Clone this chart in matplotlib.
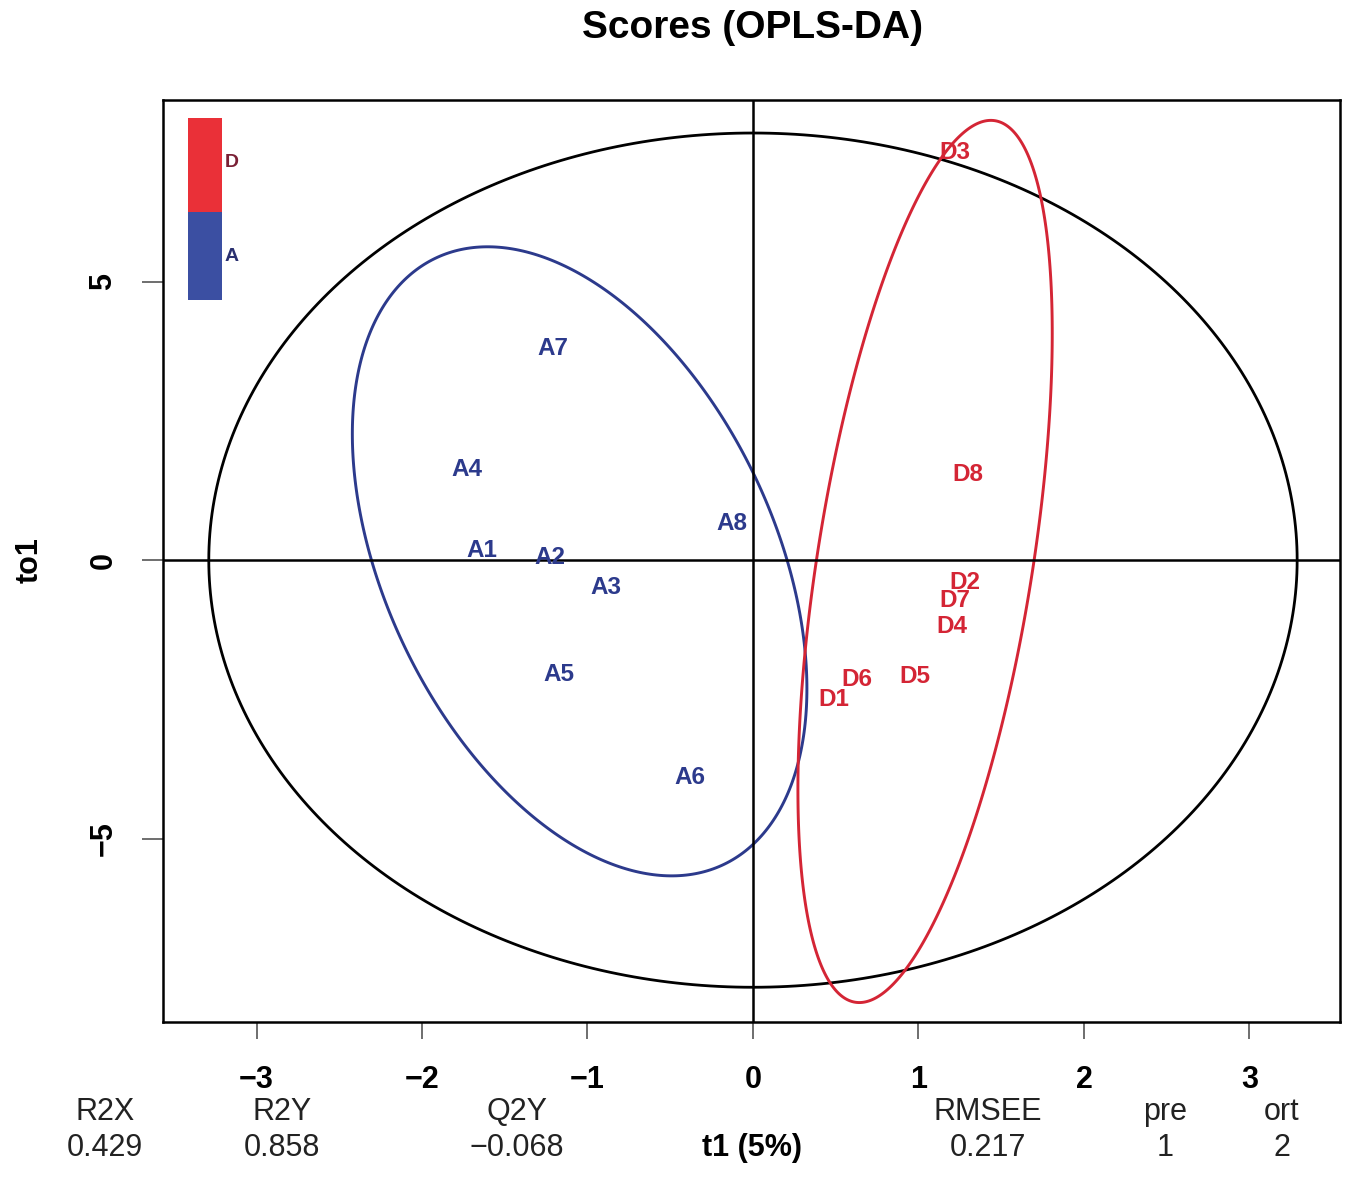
import numpy as np
import matplotlib
matplotlib.use('Agg')
import matplotlib.pyplot as plt
from matplotlib.patches import Rectangle, Polygon

plt.rcParams['font.family'] = ['Liberation Sans', 'DejaVu Sans']

# ---- data ----
labels_A = ['A1', 'A2', 'A3', 'A4', 'A5', 'A6', 'A7', 'A8']
t1_A = [-1.64, -1.23, -0.89, -1.73, -1.17, -0.38, -1.21, -0.13]
to1_A = [0.18, 0.05, -0.50, 1.62, -2.06, -3.91, 3.79, 0.66]

labels_D = ['D1', 'D2', 'D3', 'D4', 'D5', 'D6', 'D7', 'D8']
t1_D = [0.49, 1.28, 1.22, 1.20, 0.98, 0.63, 1.22, 1.30]
to1_D = [-2.50, -0.41, 7.32, -1.20, -2.08, -2.14, -0.72, 1.54]

legend_groups = ['D', 'A']
metric_names = ['R2X', 'R2Y', 'Q2Y', 'RMSEE', 'pre', 'ort']
metric_values = ['0.429', '0.858', '\u22120.068', '0.217', '1', '2']
xticks = [-3, -2, -1, 0, 1, 2, 3]
yticks = [-5, 0, 5]

col_A = '#2c3a8c'
col_D = '#d42535'
col_A_leg = '#3b4fa2'
col_D_leg = '#ea3038'

fig = plt.figure(figsize=(13.55, 11.87), dpi=100)
ax = fig.add_axes([0.1203, 0.139, 0.8686, 0.7768])

# Hotelling ellipse over all scores
t1_all = np.array(t1_A + t1_D)
to1_all = np.array(to1_A + to1_D)
n = len(t1_all)
qf = (n - 2) / 2.0 * (0.05 ** (-2.0 / (n - 2)) - 1)
hot = (n - 1) * 2 * (n ** 2 - 1) / (n ** 2 * (n - 2)) * qf
rx = np.sqrt(hot * np.var(t1_all, ddof=1))
ry = np.sqrt(hot * np.var(to1_all, ddof=1))
th = np.linspace(0, 2 * np.pi, 400, endpoint=False)
ax.add_patch(Polygon(np.column_stack([rx * np.cos(th), ry * np.sin(th)]),
                     closed=True, fill=False, edgecolor='black', lw=2.0))

ax.axhline(0, color='black', lw=1.8)
ax.axvline(0, color='black', lw=1.8)


def group_ellipse(x, y):
    x = np.asarray(x); y = np.asarray(y)
    cov = np.cov(np.vstack([x, y]))
    L = np.linalg.cholesky(cov)
    k = np.sqrt(-2 * np.log(0.05))
    circ = np.vstack([np.cos(th), np.sin(th)])
    pts = L @ circ * k
    return np.column_stack([x.mean() + pts[0], y.mean() + pts[1]])


ax.add_patch(Polygon(group_ellipse(t1_A, to1_A), closed=True, fill=False,
                     edgecolor=col_A, lw=2.1))
ax.add_patch(Polygon(group_ellipse(t1_D, to1_D), closed=True, fill=False,
                     edgecolor=col_D, lw=2.1))

for lab, x, y in zip(labels_A, t1_A, to1_A):
    ax.text(x, y, lab, color=col_A, fontsize=17.5, fontweight='bold',
            ha='center', va='center')
for lab, x, y in zip(labels_D, t1_D, to1_D):
    ax.text(x, y, lab, color=col_D, fontsize=17.5, fontweight='bold',
            ha='center', va='center')

ax.set_xlim(-3.565, 3.547)
ax.set_ylim(-8.29, 8.26)
ax.set_xticks(xticks)
ax.set_yticks(yticks)
ax.set_xticklabels([('\u2212%d' % abs(v)) if v < 0 else str(v) for v in xticks],
                   fontsize=22, fontweight='bold')
ax.set_yticklabels([('\u2212%d' % abs(v)) if v < 0 else str(v) for v in yticks],
                   fontsize=22, fontweight='bold', rotation=90, va='center')
ax.tick_params(axis='x', length=12, width=1.2, pad=19, color='#555555')
ax.tick_params(axis='y', length=15, width=1.2, pad=17, color='#555555')
for s in ax.spines.values():
    s.set_linewidth(1.8)

# legend color bar
leg_cols = [col_D_leg, col_A_leg]
ax.add_patch(Rectangle((0.0212, 0.8785), 0.0289, 0.102, transform=ax.transAxes,
                       facecolor=leg_cols[0], edgecolor='none'))
ax.add_patch(Rectangle((0.0212, 0.783), 0.0289, 0.0955, transform=ax.transAxes,
                       facecolor=leg_cols[1], edgecolor='none'))
ax.text(0.058, 0.932, legend_groups[0], transform=ax.transAxes, fontsize=14,
        fontweight='bold', color='#7a2035', ha='center', va='center')
ax.text(0.058, 0.830, legend_groups[1], transform=ax.transAxes, fontsize=14,
        fontweight='bold', color='#2a3070', ha='center', va='center')

fig.text(0.555, 0.976, 'Scores (OPLS-DA)', fontsize=28, fontweight='bold',
         ha='center', va='center')
fig.text(0.022, 0.528, 'to1', fontsize=22, fontweight='bold', rotation=90,
         ha='center', va='center')

xs = [0.0775, 0.208, 0.3815, 0.729, 0.860, 0.946]
for name, val, xp in zip(metric_names, metric_values, xs):
    fig.text(xp, 0.0632, name, fontsize=22, ha='center', va='center', color='#222222')
    fig.text(xp, 0.0329, val, fontsize=22, ha='center', va='center', color='#222222')
fig.text(0.555, 0.0329, 't1 (5%)', fontsize=22, fontweight='bold',
         ha='center', va='center')

fig.savefig('out.png', dpi=100)
